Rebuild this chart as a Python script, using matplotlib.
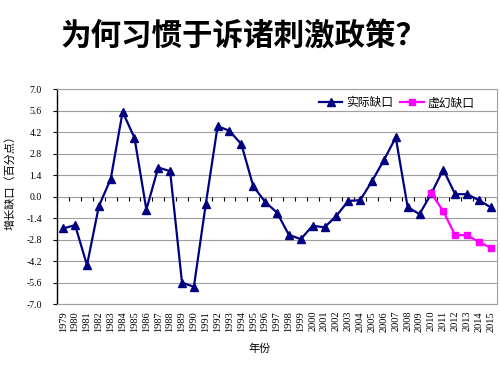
import matplotlib
matplotlib.use("Agg")
import matplotlib.pyplot as plt
import numpy as np

plt.rcParams['font.family'] = ['Noto Sans CJK SC', 'DejaVu Sans']

years = [str(y) for y in range(1979, 2016)]
actual_gap = [-2.07, -1.86, -4.47, -0.62, 1.16, 5.53, 3.83, -0.84, 1.90, 1.66,
              -5.60, -5.88, -0.50, 4.60, 4.29, 3.42, 0.68, -0.34, -1.04, -2.49,
              -2.77, -1.90, -2.00, -1.25, -0.28, -0.23, 1.01, 2.38, 3.86, -0.68,
              -1.14, 0.21, 1.77, 0.16, 0.16, -0.23, -0.70]
virtual_years = ['2010', '2011', '2012', '2013', '2014', '2015']
virtual_gap = [0.21, -0.95, -2.51, -2.51, -2.95, -3.34]
yticks = [7.0, 5.6, 4.2, 2.8, 1.4, 0.0, -1.4, -2.8, -4.2, -5.6, -7.0]

title = "为何习惯于诉诸刺激政策？"
ylabel = "增长缺口（百分点）"
xlabel = "年份"
labels = ["实际缺口", "虚幻缺口"]

fig = plt.figure(figsize=(5, 3.75), dpi=100)
ax = fig.add_axes([0.1146, 0.1893, 0.8788, 0.5726])

x = np.arange(len(years))
xv = np.array([years.index(y) for y in virtual_years])

for v in yticks:
    ax.axhline(v, color='#a0a0a0', lw=0.8, zorder=0)

ax.plot(x, actual_gap, color='#000080', lw=1.6, marker='^', ms=6,
        markerfacecolor='#000080', markeredgecolor='#000080', label=labels[0], zorder=3)
ax.plot(xv, virtual_gap, color='#ff00ff', lw=1.6, marker='s', ms=5,
        markerfacecolor='#ff00ff', markeredgecolor='#ff00ff', label=labels[1], zorder=4)

ax.set_xlim(-0.5, len(years) - 0.5)
ax.set_ylim(-7.0, 7.0)
ax.set_yticks(yticks)
ax.set_yticklabels([f"{v:.1f}" for v in yticks], family=['Liberation Serif'], fontsize=7)
ax.tick_params(axis='y', length=3, width=0.8, color='black', pad=8)

ax.set_xticks(x)
ax.set_xticklabels(years, rotation=90, family=['Liberation Serif'], fontsize=7.5)
ax.tick_params(axis='x', length=0, pad=5)

for s in ['top', 'right', 'bottom']:
    ax.spines[s].set_color('#a0a0a0')
    ax.spines[s].set_linewidth(0.8)
ax.spines['left'].set_color('black')
ax.spines['left'].set_linewidth(1.0)

sec = ax.secondary_xaxis(0.5)
sec.set_xticks(np.arange(-0.5, len(years), 1.0))
sec.set_xticklabels([])
sec.tick_params(axis='x', direction='in', length=3, width=0.8, color='black')
sec.spines['bottom'].set_color('black')
sec.spines['bottom'].set_linewidth(1.0)
sec.spines['top'].set_visible(False)

ax.set_ylabel(ylabel, fontsize=8, labelpad=10)
ax.yaxis.set_label_coords(-0.095, 0.58)
ax.set_xlabel(xlabel, fontsize=8)
ax.xaxis.set_label_coords(0.46, -0.185)

ax.legend(loc='upper right', bbox_to_anchor=(0.965, 1.0), ncol=2, frameon=False,
          fontsize=8.5, handlelength=2.0, columnspacing=0.6, handletextpad=0.3,
          borderaxespad=0.2)

fig.text(0.486, 0.905, title, fontsize=22, weight='bold', ha='center', va='center')

fig.savefig('out.png', dpi=100)
